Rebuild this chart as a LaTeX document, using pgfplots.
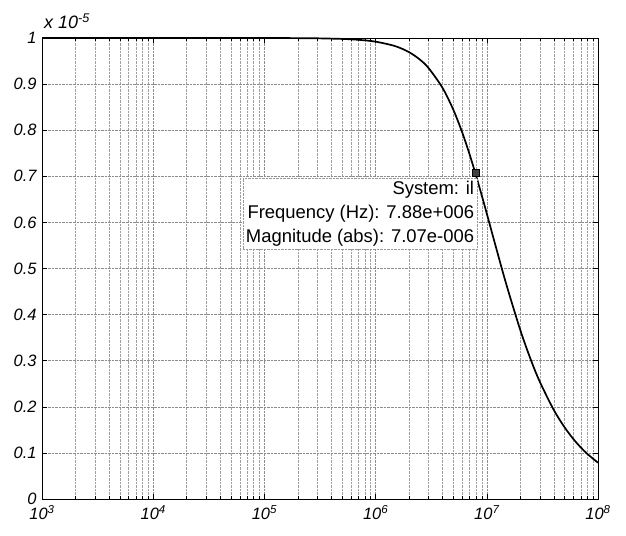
\documentclass[border=0pt]{standalone}
\usepackage{fontspec}
\setmainfont{Liberation Sans}
\usepackage{pgfplots}
\pgfplotsset{compat=1.18}
\begin{document}
\begin{tikzpicture}[x=1bp,y=1bp]
\begin{axis}[
  at={(0,0)}, anchor=south west,
  scale only axis, width=556bp, height=461bp,
  xmode=log, xmin=1e3, xmax=1e8, ymin=0, ymax=1,
  log basis x=10,
  xtick={1e3,1e4,1e5,1e6,1e7,1e8},
  minor xtick={2e3,3e3,4e3,5e3,6e3,7e3,8e3,9e3,
    2e4,3e4,4e4,5e4,6e4,7e4,8e4,9e4,
    2e5,3e5,4e5,5e5,6e5,7e5,8e5,9e5,
    2e6,3e6,4e6,5e6,6e6,7e6,8e6,9e6,
    2e7,3e7,4e7,5e7,6e7,7e7,8e7,9e7},
  xticklabels={10\textsuperscript{3},10\textsuperscript{4},10\textsuperscript{5},10\textsuperscript{6},10\textsuperscript{7},10\textsuperscript{8}},
  ytick={0,0.1,0.2,0.3,0.4,0.5,0.6,0.7,0.8,0.9,1},
  yticklabels={0,0.1,0.2,0.3,0.4,0.5,0.6,0.7,0.8,0.9,1},
  ticklabel style={font=\fontsize{16.5}{19}\selectfont\itshape},
  xticklabel style={yshift=-3bp},
  yticklabel style={xshift=-2bp},
  tick align=inside, major tick length=5bp, minor tick length=3bp,
  xmajorgrids, xminorgrids, ymajorgrids,
  major grid style={densely dotted, gray!90},
  minor grid style={densely dotted, gray!75},
  axis line style={black, line width=0.9bp},
  every tick/.style={black},
  clip=false,
]
\addplot[black, line width=1.7bp, smooth] coordinates {
(1e3,1.0000) (1e4,1.0000) (1e5,0.99992) (2e5,0.99968) (3e5,0.99928) (5e5,0.99799)
(7e5,0.99608) (1e6,0.99205) (1.5e6,0.98236) (2e6,0.96927) (2.5e6,0.95318)
(3e6,0.93455) (4e6,0.89170) (5e6,0.84437) (6e6,0.79562) (7e6,0.74762)
(7.88e6,0.70711) (9e6,0.65874) (1e7,0.61893) (1.2e7,0.54890) (1.5e7,0.46506)
(2e7,0.36657) (2.5e7,0.30062) (3e7,0.25405) (4e7,0.19328) (5e7,0.15568)
(6e7,0.13022) (7e7,0.11186) (8e7,0.09803) (1e8,0.07862)
};
\addplot[only marks, mark=square*, mark size=3.5bp, black, fill=black!75] coordinates {(7.88e6,0.70711)};
\node[anchor=north east, draw=gray!80, densely dotted, fill=white, align=right, inner sep=3bp,
  font=\fontsize{18.5}{24}\selectfont] at ([xshift=2bp,yshift=-5bp]axis cs:7.88e6,0.70711)
  {System: il\\Frequency (Hz): 7.88e+006\\Magnitude (abs): 7.07e-006};
\node[anchor=south west, font=\fontsize{18}{20}\selectfont\itshape, inner sep=0pt]
  at ([xshift=2bp,yshift=9bp]rel axis cs:0,1) {x 10\textsuperscript{-5}};
\end{axis}
\path (-42bp,-37bp) rectangle (584bp,499bp);
\end{tikzpicture}
\end{document}
